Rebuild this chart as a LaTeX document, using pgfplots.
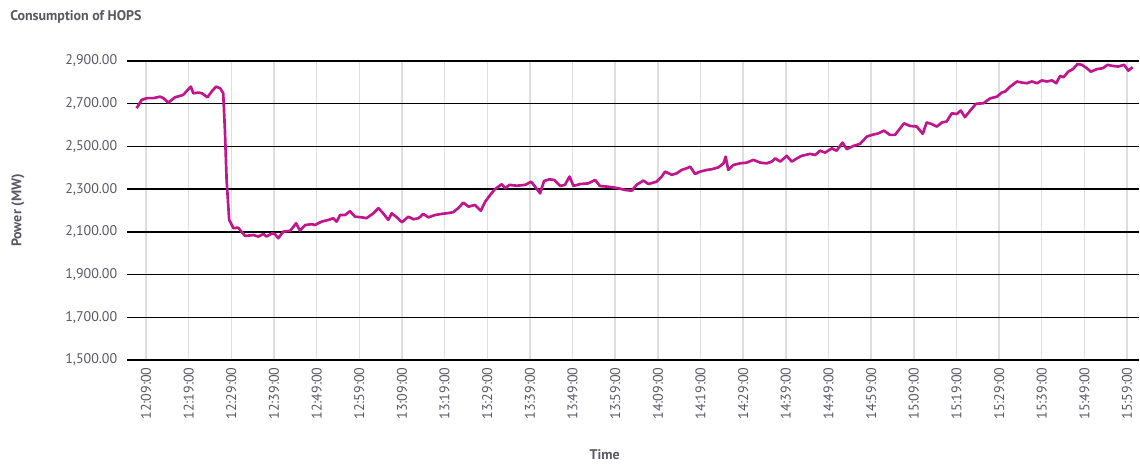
\documentclass[border=0pt]{standalone}
\usepackage{fontspec}
\setmainfont{PT Sans}
\usepackage{pgfplots}
\pgfplotsset{compat=1.18}
\definecolor{hops}{RGB}{192,22,140}
\definecolor{lbl}{RGB}{88,88,98}
\definecolor{vgrid}{RGB}{222,222,222}

\begin{document}
\begin{tikzpicture}
\begin{axis}[
    name=ax,
    scale only axis,
    width=759pt, height=224.25pt,
    xmin=-4.455, xmax=232.8,
    ymin=1500, ymax=2900,
    ytick={1500,1700,...,2900},
    xtick={0,10,...,230},
    xticklabels={12:09:00,12:19:00,12:29:00,12:39:00,12:49:00,12:59:00,13:09:00,13:19:00,13:29:00,13:39:00,13:49:00,13:59:00,14:09:00,14:19:00,14:29:00,14:39:00,14:49:00,14:59:00,15:09:00,15:19:00,15:29:00,15:39:00,15:49:00,15:59:00},
    axis line style={draw=none},
    major tick length=0pt,
    ymajorgrids, xmajorgrids,
    y grid style={black, line width=1.1pt},
    x grid style={vgrid, line width=1.1pt},
    /pgf/number format/assume math mode=true,
    yticklabel style={/pgf/number format/fixed, /pgf/number format/fixed zerofill,
      /pgf/number format/precision=2, /pgf/number format/1000 sep={,}},
    ticklabel style={font=\fontsize{10.5}{12}\selectfont, text=lbl},
    yticklabel style={anchor=east, xshift=-3.8pt},
    xticklabel style={rotate=90, anchor=east, inner sep=1.5pt, xshift=-4pt},
    every axis y label/.style={at={(rel axis cs:0,0.5)}, xshift=-81.75pt, rotate=90, anchor=center},
    every axis x label/.style={at={(rel axis cs:0.472,0)}, yshift=-71.25pt, anchor=center},
    ylabel={Power (MW)},
    xlabel={Time},
    label style={font=\fontsize{10.5}{12}\selectfont\bfseries, text=lbl},
]
\addplot[hops, line width=2pt, line join=round] coordinates {
(-2.2,2679) (-1.0,2718) (0.2,2726) (1.7,2726) (3.3,2733) (4.1,2726) (5.2,2705)
(6.8,2730) (8.7,2741) (10.5,2780) (11.1,2749) (12.3,2752) (13.1,2749) (14.4,2730)
(15.4,2757) (16.4,2780) (17.4,2772) (18.1,2749) (18.5,2577) (18.9,2343) (19.5,2156)
(20.5,2117) (21.6,2120) (23.2,2081) (25.2,2085) (26.3,2078) (27.5,2090) (28.3,2078)
(29.5,2093) (30.2,2090) (31.0,2070) (32.2,2101) (33.8,2105) (35.2,2140) (36.1,2106)
(37.3,2132) (38.9,2136) (39.6,2132) (41.2,2148) (42.8,2156) (43.9,2164) (44.7,2148)
(45.5,2179) (46.7,2179) (47.8,2197) (49.0,2171) (50.6,2168) (51.7,2164) (53.3,2187)
(54.5,2211) (55.6,2187) (56.8,2156) (57.6,2187) (58.8,2168) (60.0,2145) (61.5,2171)
(62.7,2159) (63.9,2164) (65.0,2184) (66.2,2168) (67.8,2179) (69.3,2184) (70.5,2187)
(72.0,2192) (73.2,2211) (74.4,2237) (75.6,2218) (77.1,2226) (78.5,2199) (79.5,2241)
(80.7,2273) (81.8,2300) (83.4,2323) (84.2,2304) (85.2,2320) (86.9,2316) (88.9,2320)
(90.3,2335) (91.2,2312) (92.4,2280) (93.3,2338) (94.6,2346) (95.7,2343) (97.1,2315)
(98.2,2320) (99.3,2359) (100.2,2315) (101.8,2324) (103.7,2327) (105.3,2343) (106.4,2315)
(108.0,2312) (109.6,2308) (110.8,2304) (112.3,2296) (113.9,2293) (115.0,2320) (116.6,2340)
(117.8,2324) (119.7,2335) (120.9,2359) (121.7,2382) (123.3,2367) (124.4,2374) (125.6,2390)
(126.8,2398) (127.6,2405) (128.7,2371) (129.9,2382) (131.5,2390) (132.6,2393) (134.2,2402)
(135.4,2421) (135.9,2452) (136.5,2390) (137.7,2413) (139.3,2421) (140.8,2424) (142.4,2437)
(144.0,2424) (145.5,2421) (146.7,2429) (147.5,2444) (148.7,2429) (150.2,2456) (151.4,2429)
(152.6,2444) (153.7,2456) (155.7,2465) (156.9,2460) (158.0,2480) (159.2,2471) (160.8,2491)
(161.9,2480) (163.3,2518) (164.3,2487) (165.8,2502) (167.4,2512) (169.0,2546) (170.2,2554)
(171.7,2561) (173.0,2574) (174.4,2554) (175.6,2554) (176.8,2585) (177.7,2608) (179.1,2596)
(180.7,2593) (182.1,2559) (183.0,2612) (184.2,2605) (185.4,2593) (186.6,2612) (187.7,2617)
(188.9,2655) (190.1,2652) (191.0,2668) (192.0,2637) (193.2,2667) (194.6,2700) (196.3,2702)
(197.9,2725) (199.5,2733) (200.6,2752) (201.4,2757) (202.6,2780) (204.2,2804) (205.3,2799)
(206.5,2796) (207.7,2804) (208.9,2796) (210.0,2809) (211.2,2804) (212.4,2809) (213.4,2796)
(214.3,2830) (215.1,2824) (216.2,2850) (217.3,2862) (218.4,2886) (219.4,2882) (220.6,2866)
(221.5,2850) (222.9,2862) (224.3,2866) (225.4,2882) (226.6,2877) (227.9,2874) (229.3,2882)
(230.3,2855) (231.3,2871)
};
\end{axis}
\node[anchor=base west, text=lbl, font=\fontsize{10.5}{12}\selectfont\bfseries, inner sep=0pt]
  at ([xshift=-87.75pt, yshift=30.5pt]ax.north west) {Consumption of HOPS};
\pgfresetboundingbox
\path[use as bounding box] ([xshift=-95.25pt, yshift=-78pt]ax.south west) rectangle ([xshift=0.75pt, yshift=45.75pt]ax.north east);
\end{tikzpicture}
\end{document}
